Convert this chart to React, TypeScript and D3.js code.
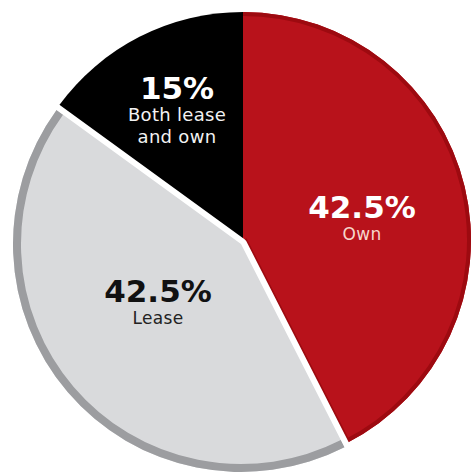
import React from "react";
import * as d3 from "d3";

const categories = ["Own", "Lease", "Both lease and own"];
const values = [42.5, 42.5, 15];
const labelLines = [["Own"], ["Lease"], ["Both lease", "and own"]];

const W = 473;
const H = 474;
const cx = 243;
const cy = 240;
const R = 228;

const fills = ["#b8121b", "#d9dadc", "#000000"];
const borders = ["#9d0a10", "#9c9da0", null];
const pctColors = ["#ffffff", "#111111", "#ffffff"];
const subColors = ["#f6d6cb", "#222222", "#f2f2f2"];
const offsets: [number, number][] = [[0, 0], [-2, 4], [0, 0]];
const labelPos: [number, number][] = [[362, 218], [158, 302], [177, 99]];

export default function App() {
  const pie = d3.pie<number>().sort(null).value((d) => d)(values);
  const arc = d3.arc<d3.PieArcDatum<number>>().innerRadius(0).outerRadius(R);
  const order = [0, 2, 1];

  return (
    <svg width={W} height={H} style={{ position: "absolute", left: 0, top: 0 }}>
      <defs>
        {pie.map((p, i) => (
          <clipPath id={`clip${i}`} key={i}>
            <path d={arc(p) || ""} />
          </clipPath>
        ))}
      </defs>
      {order.map((i) => {
        const p = pie[i];
        const [ox, oy] = offsets[i];
        const d = arc(p) || "";
        const path = d3.path();
        const a0 = p.startAngle - Math.PI / 2;
        const a1 = p.endAngle - Math.PI / 2;
        path.moveTo(R * Math.cos(a0), R * Math.sin(a0));
        path.arc(0, 0, R, a0, a1);
        if (i === 0) path.lineTo(0, 0);
        return (
          <g key={i} transform={`translate(${cx + ox},${cy + oy})`}>
            <path
              d={d}
              fill={fills[i]}
              stroke={i === 1 ? "#ffffff" : "none"}
              strokeWidth={i === 1 ? 12 : 0}
              strokeLinejoin="round"
              style={{ paintOrder: "stroke" }}
            />
            {borders[i] && (
              <path
                d={path.toString()}
                fill="none"
                stroke={borders[i] as string}
                strokeWidth={i === 0 ? 8 : 16}
                clipPath={`url(#clip${i})`}
              />
            )}
          </g>
        );
      })}
      {pie.map((p, i) => {
        const [x, y] = labelPos[i];
        return (
          <g key={`t${i}`} textAnchor="middle" fontFamily="DejaVu Sans, sans-serif">
            <text x={x} y={y} fontSize={31} fontWeight="bold" fill={pctColors[i]}>
              {`${values[i]}%`}
            </text>
            {labelLines[i].map((line, j) => (
              <text
                key={j}
                x={x}
                y={y + 22 + j * 22}
                fontSize={i === 2 ? 18 : 17}
                fill={subColors[i]}
                letterSpacing={0.3}
              >
                {line}
              </text>
            ))}
          </g>
        );
      })}
    </svg>
  );
}
